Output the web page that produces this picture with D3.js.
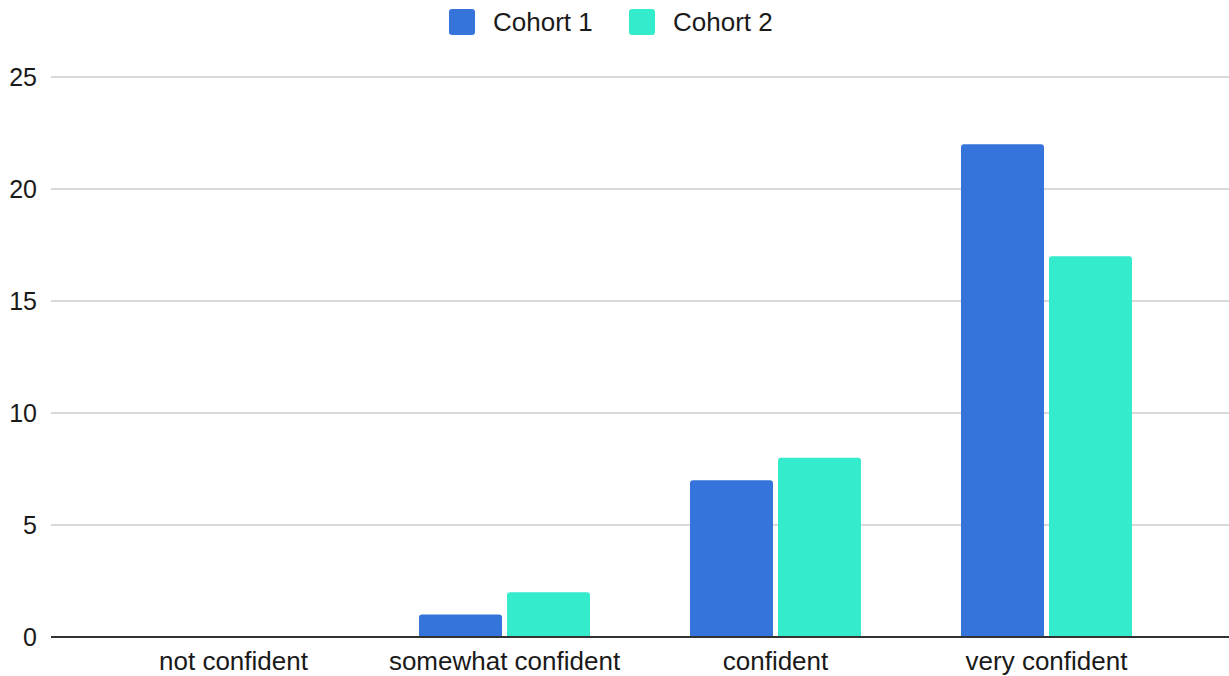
<!DOCTYPE html>
<html>
<head>
<meta charset="utf-8">
<script src="https://cdn.jsdelivr.net/npm/d3@7"></script>
<style>
  html, body { margin: 0; padding: 0; background: #fff; }
  svg { display: block; font-family: "Liberation Sans", Arial, Helvetica, sans-serif; }
</style>
</head>
<body>
<svg id="chart" width="1229" height="676"></svg>
<script>
// Confidence survey responses, two cohorts
const categories = ["not confident", "somewhat confident", "confident", "very confident"];
const seriesNames = ["Cohort 1", "Cohort 2"];
const cohort1 = [0, 1, 7, 22];
const cohort2 = [0, 2, 8, 17];
const yTicks = [0, 5, 10, 15, 20, 25];
const colors = ["#3574db", "#34ebcb"];

const W = 1229, H = 676;
const svg = d3.select("#chart");
const fontSize = 26;

const y = d3.scaleLinear().domain([0, 25]).range([637, 77]);

const x0 = d3.scaleBand()
  .domain(categories)
  .range([98, 1182])
  .paddingInner(100 / 271)
  .paddingOuter(50 / 271);

const x1 = d3.scaleBand()
  .domain(seriesNames)
  .range([0, x0.bandwidth()])
  .paddingInner(5 / 88);

const values = [cohort1, cohort2];

// gridlines
svg.append("g")
  .selectAll("line")
  .data(yTicks.filter(t => t !== 0))
  .join("line")
  .attr("x1", 51).attr("x2", W)
  .attr("y1", d => y(d)).attr("y2", d => y(d))
  .attr("stroke", "#cccccc")
  .attr("stroke-width", 1.5);

// y tick labels
svg.append("g")
  .selectAll("text")
  .data(yTicks)
  .join("text")
  .attr("x", 37)
  .attr("y", d => y(d))
  .attr("dy", "0.35em")
  .attr("text-anchor", "end")
  .attr("font-size", 25)
  .attr("fill", "#1a1a1a")
  .text(d => d);

// rounded-top bar path
function barPath(x, yTop, w, yBase, r) {
  const h = yBase - yTop;
  if (h <= 0) return "";
  r = Math.min(r, h, w / 2);
  return `M${x},${yBase}V${yTop + r}Q${x},${yTop} ${x + r},${yTop}H${x + w - r}Q${x + w},${yTop} ${x + w},${yTop + r}V${yBase}Z`;
}

const groups = svg.append("g")
  .selectAll("g")
  .data(categories)
  .join("g")
  .attr("transform", d => `translate(${x0(d)},0)`);

groups.selectAll("path")
  .data((c, i) => seriesNames.map((s, j) => ({ s, j, v: values[j][i] })))
  .join("path")
  .attr("d", d => barPath(x1(d.s), y(d.v), x1.bandwidth(), y(0), 3))
  .attr("fill", d => colors[d.j]);

// baseline
svg.append("line")
  .attr("x1", 51).attr("x2", W)
  .attr("y1", y(0)).attr("y2", y(0))
  .attr("stroke", "#333")
  .attr("stroke-width", 2);

// category labels
svg.append("g")
  .selectAll("text")
  .data(categories)
  .join("text")
  .attr("x", d => x0(d) + x0.bandwidth() / 2)
  .attr("y", 670)
  .attr("text-anchor", "middle")
  .attr("font-size", fontSize)
  .attr("fill", "#1a1a1a")
  .text(d => d);

// legend
const legendX = [449, 629];
const legend = svg.append("g")
  .selectAll("g")
  .data(seriesNames)
  .join("g")
  .attr("transform", (d, i) => `translate(${legendX[i]},9)`);
legend.append("rect")
  .attr("width", 26).attr("height", 26).attr("rx", 3)
  .attr("fill", (d, i) => colors[i]);
legend.append("text")
  .attr("x", 44).attr("y", 13).attr("dy", "0.35em")
  .attr("font-size", fontSize)
  .attr("fill", "#1a1a1a")
  .text(d => d);
</script>
</body>
</html>
